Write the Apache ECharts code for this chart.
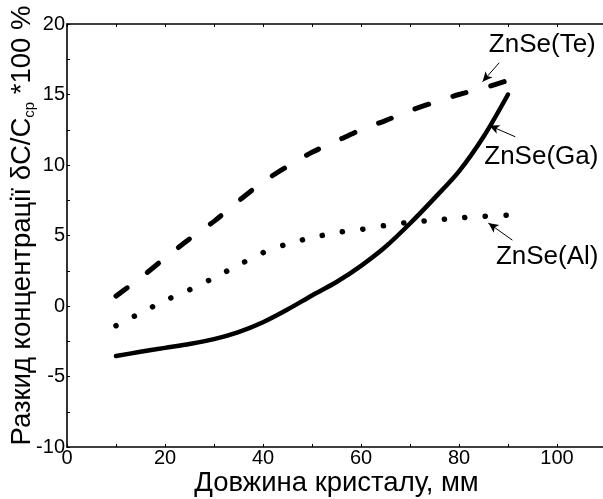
<!DOCTYPE html>
<html>
<head>
<meta charset="utf-8">
<script src="https://cdn.jsdelivr.net/npm/echarts@6/dist/echarts.min.js"></script>
<style>
  html, body { margin: 0; padding: 0; background: #fff; }
  #chart { width: 603px; height: 499px; }
</style>
</head>
<body>
<div id="chart"></div>
<script>
// Crystal length, mm
const lengthMm = [10, 15, 20, 25, 30, 35, 40, 45, 50, 55, 60, 65, 70, 75, 80, 85, 90];

// Concentration spread δC/C_cp * 100 %, per dopant
const znseTe = [0.7, 2.0, 3.4, 4.75, 6.0, 7.45, 8.8, 9.9, 10.9, 11.7, 12.5, 13.15, 13.85, 14.45, 15.0, 15.45, 16.0];
const znseGa = [-3.55, -3.25, -2.97, -2.7, -2.35, -1.85, -1.15, -0.25, 0.75, 1.7, 2.85, 4.2, 5.85, 7.65, 9.55, 12.0, 15.0];
const znseAl = [-1.4, -0.5, 0.38, 1.15, 2.0, 2.9, 3.78, 4.4, 4.85, 5.2, 5.43, 5.71, 5.94, 6.08, 6.24, 6.36, 6.45];

const seriesNames = ['ZnSe(Te)', 'ZnSe(Ga)', 'ZnSe(Al)'];

// Callout text positions and arrow (start -> tip) in data units
const labelAt = [[97.0, 18.5], [96.8, 10.6], [98.0, 3.5]];
const arrowFrom = [[88.2, 17.25], [91.5, 12.0], [90.9, 4.67]];
const arrowTo = [[84.8, 15.9], [86.2, 12.8], [86.0, 5.88]];

const FONT = "'Liberation Sans', Arial, sans-serif";

const pairs = (ys) => lengthMm.map((x, i) => [x, ys[i]]);

function callout(i) {
  return {
    markPoint: {
      silent: true,
      symbol: 'circle',
      symbolSize: 1,
      itemStyle: { color: 'transparent' },
      label: {
        show: true, position: 'inside', formatter: '{b}',
        color: '#000', fontFamily: FONT, fontSize: 26
      },
      data: [{ name: seriesNames[i], coord: labelAt[i] }]
    },
    markLine: {
      silent: true,
      symbol: ['none', 'arrow'],
      symbolSize: [7, 10],
      label: { show: false },
      lineStyle: { color: '#000', width: 1, type: 'solid' },
      data: [[{ coord: arrowFrom[i] }, { coord: arrowTo[i] }]]
    }
  };
}

const chart = echarts.init(document.getElementById('chart'), null, { renderer: 'canvas' });

const axisLineStyle = { color: '#000', width: 1.6 };

chart.setOption({
  animation: false,
  backgroundColor: '#fff',
  grid: { left: 67, top: 24, width: 539, height: 423, containLabel: false, outerBoundsMode: 'none' },
  xAxis: [{
    type: 'value', min: 0, max: 110, interval: 10,
    name: 'Довжина кристалу, мм',
    nameLocation: 'middle', nameGap: 22, nameMoveOverlap: false,
    nameTextStyle: { color: '#000', fontFamily: FONT, fontSize: 27.5 },
    axisLine: { show: true, onZero: false, lineStyle: axisLineStyle },
    axisTick: { show: true, inside: true, length: 3, lineStyle: { color: '#000', width: 1 } },
    axisLabel: {
      color: '#000', fontFamily: FONT, fontSize: 20, margin: 1,
      formatter: (v) => (v % 20 === 0 ? String(v) : '')
    },
    splitLine: { show: false }
  }, {
    type: 'value', min: 0, max: 110, interval: 10, position: 'top',
    axisLine: { show: true, onZero: false, lineStyle: axisLineStyle },
    axisTick: { show: true, inside: true, length: 3, lineStyle: { color: '#000', width: 1 } },
    axisLabel: { show: false },
    splitLine: { show: false }
  }],
  yAxis: {
    type: 'value', min: -10, max: 20, interval: 2.5,
    name: 'Разкид концентрації δC/C{sub|cp} *100 %',
    nameLocation: 'middle', nameGap: 30, nameRotate: 90, nameMoveOverlap: false,
    nameTextStyle: {
      color: '#000', fontFamily: FONT, fontSize: 27.5, lineHeight: 30,
      padding: [0, 0, 0, 20],
      rich: {
        sub: { fontFamily: FONT, fontSize: 15, color: '#000', verticalAlign: 'bottom', lineHeight: 15 }
      }
    },
    axisLine: { show: true, onZero: false, lineStyle: axisLineStyle },
    axisTick: { show: true, inside: true, length: 3, lineStyle: { color: '#000', width: 1 } },
    axisLabel: {
      color: '#000', fontFamily: FONT, fontSize: 20, margin: 2,
      formatter: (v) => (v % 5 === 0 ? String(v) : '')
    },
    splitLine: { show: false }
  },
  series: [
    Object.assign({
      name: seriesNames[0], type: 'line', data: pairs(znseTe),
      smooth: 0.3, symbol: 'none',
      lineStyle: { color: '#000', width: 5, type: [14, 25.5], cap: 'round' }
    }, callout(0)),
    Object.assign({
      name: seriesNames[1], type: 'line', data: pairs(znseGa),
      smooth: 0.3, symbol: 'none',
      lineStyle: { color: '#000', width: 4.5, type: 'solid', cap: 'round' }
    }, callout(1)),
    Object.assign({
      name: seriesNames[2], type: 'line', data: pairs(znseAl),
      smooth: 0.3, symbol: 'none',
      lineStyle: { color: '#000', width: 5.5, type: [0.1, 20.45], cap: 'round' }
    }, callout(2))
  ]
});
</script>
</body>
</html>
